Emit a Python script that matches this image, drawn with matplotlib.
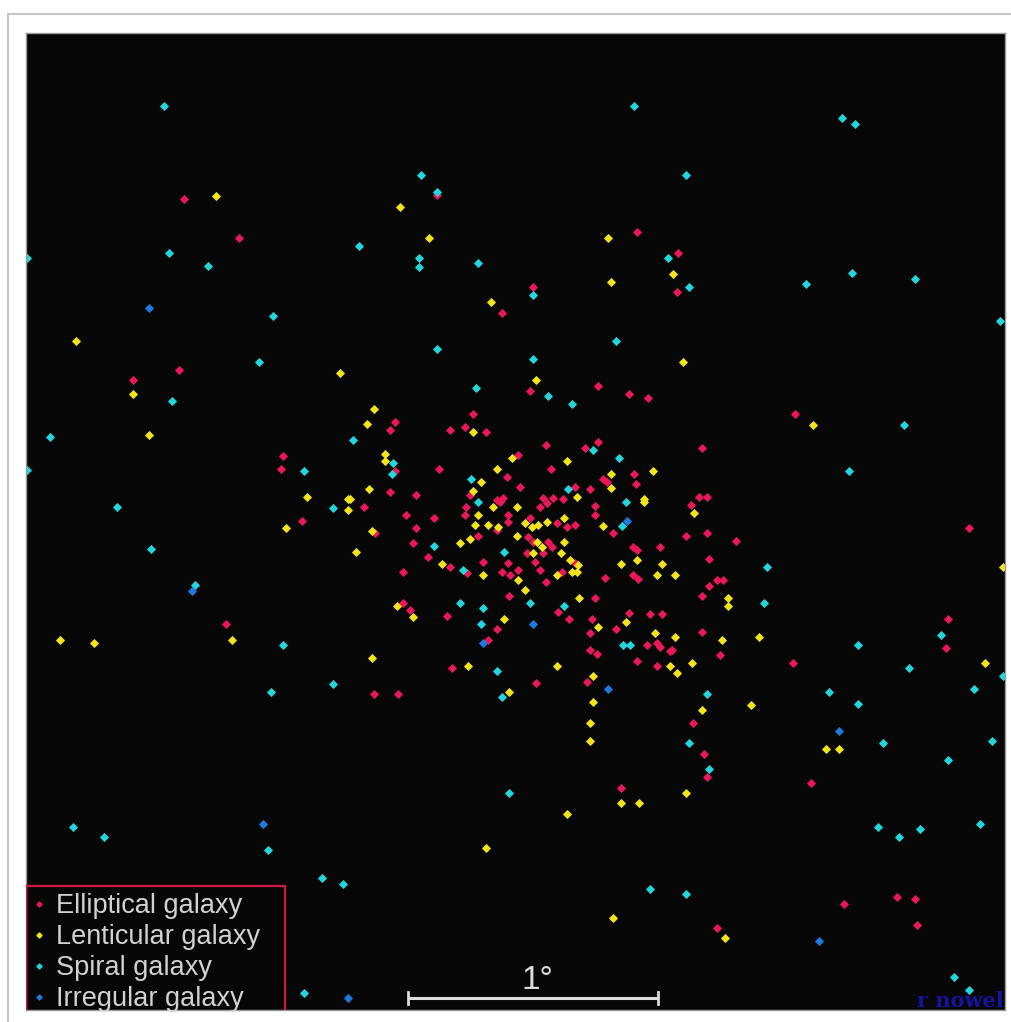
import matplotlib.pyplot as plt
from matplotlib.patches import Rectangle

# positions on the map (map units, 251 units = 1 degree), y grows downward
elliptical = [(184,199),(239,238),(437,195),(637,232),(678,253),(533,287),(502,313),(677,292),
    (179,370),(133,380),(283,456),(281,469),(302,521),(226,624),
    (598,386),(629,394),(648,398),(530,391),
    (473,414),(395,422),(390,430),(450,430),(465,427),(486,432),
    (546,445),(585,448),(598,442),(395,471),(518,455),(439,469),(551,469),
    (507,477),(634,474),(603,479),(607,482),(636,484),(390,492),(520,487),(470,495),(575,487),(590,489),(416,495),
    (503,498),(497,500),(543,498),(553,498),(563,499),(364,507),(466,507),(595,506),
    (406,515),(434,518),(465,515),(500,502),(508,515),(508,522),(497,530),(530,518),(557,523),(567,527),(575,525),
    (540,507),(547,503),(595,515),(613,533),(375,533),(416,528),(413,543),(478,536),(528,537),(533,542),(548,542),
    (552,547),(527,553),(543,553),(428,557),(450,567),(483,562),(575,563),(535,562),(508,563),(467,573),(502,572),
    (510,575),(518,570),(540,570),(562,572),(403,572),(546,582),(605,578),(633,547),(637,550),(660,547),(633,575),
    (638,579),(509,596),(595,598),(403,603),(410,610),(558,612),(447,616),(497,629),(569,619),(592,619),(629,613),
    (650,614),(662,614),(590,633),(616,629),(488,640),(647,645),(657,643),(660,647),(670,651),(590,650),(597,654),
    (637,661),(657,666),(452,668),(536,683),(587,682),(374,694),(398,694),
    (691,505),(686,536),(707,533),(736,541),(709,559),(717,580),(723,580),(709,586),(702,596),(702,632),(672,650),
    (720,655),(793,663),(693,723),(704,754),(699,497),(707,497),(702,448),(795,414),
    (969,528),(948,619),(946,648),
    (707,777),(811,783),(621,788),(897,897),(915,899),(844,904),(917,925),(717,928)]

lenticular = [(216,196),(400,207),(429,238),(608,238),(611,282),(673,274),(491,302),(683,362),(76,341),(340,373),
    (133,394),(149,435),(307,497),(348,499),(286,528),(60,640),(94,643),(232,640),
    (536,380),(374,409),(367,424),(473,432),(385,454),(385,461),(512,458),(567,461),(653,471),(497,469),(481,482),
    (611,474),(611,488),(369,489),(473,491),(577,497),(644,499),(350,499),(493,507),(813,425),
    (348,510),(517,507),(478,515),(475,525),(488,525),(498,527),(525,523),(532,527),(538,525),(547,522),(564,518),
    (644,502),(603,526),(372,531),(460,543),(470,539),(517,536),(356,552),(537,542),(542,547),(564,542),(533,553),
    (561,553),(442,564),(570,560),(578,565),(483,575),(557,575),(572,572),(577,572),(518,580),(621,564),(637,560),
    (662,564),(657,575),(675,575),(525,590),(579,598),(397,606),(413,617),(504,619),(626,622),(598,627),(655,633),
    (675,637),(670,666),(677,673),(372,658),(557,666),(468,666),(593,676),(509,692),(593,702),(590,723),(590,741),
    (694,513),(728,598),(728,606),(722,640),(759,637),(692,663),(1003,567),(985,663),(702,710),(751,705),
    (826,749),(839,749),(686,793),(621,803),(639,803),(567,814),(486,848),(613,918),(725,938)]

spiral = [(164,106),(634,106),(842,118),(855,124),(686,175),(421,175),(437,192),(359,246),(419,258),(419,267),
    (478,263),(668,258),(169,253),(208,266),(27,258),(852,273),(689,287),(806,284),(915,279),(1000,321),
    (533,295),(616,341),(437,349),(533,359),(476,388),(548,396),(572,404),(273,316),(259,362),(172,401),(50,437),
    (304,471),(27,470),(117,507),(333,508),(904,425),(849,471),
    (353,440),(593,450),(393,463),(392,474),(619,458),(471,479),(568,489),(478,502),(626,502),(622,526),(434,546),
    (504,552),(463,570),(460,603),(483,608),(530,603),(564,606),(481,624),(623,645),(630,645),(497,671),(502,697),
    (151,549),(195,585),(283,645),(333,684),(271,692),
    (767,567),(764,603),(941,635),(858,645),(909,668),(1003,676),(829,692),(858,704),(974,689),(707,694),(689,743),
    (883,743),(992,741),(948,760),
    (73,827),(104,837),(268,850),(322,878),(343,884),(304,993),(509,793),(650,889),(709,769),(878,827),(899,837),
    (920,829),(980,824),(686,894),(954,977),(969,990)]

irregular = [(149,308),(192,591),(627,521),(533,624),(483,643),(608,689),(839,731),(263,824),(348,998),(819,941)]

types = ['Elliptical galaxy', 'Lenticular galaxy', 'Spiral galaxy', 'Irregular galaxy']
colors = ['#e8185a', '#f2e41a', '#22d6dc', '#1f7ae0']
groups = [elliptical, lenticular, spiral, irregular]

fig = plt.figure(figsize=(10.11, 10.22), dpi=100)
fig.patch.set_facecolor('white')
fig.patches.append(Rectangle((8/1011, -0.01), 1.0, (1022-14)/1022 + 0.01, transform=fig.transFigure,
                             fill=False, edgecolor='#c4c4c4', lw=1.5))

ax = fig.add_axes([26/1011, 12/1022, 979/1011, 977/1022])
ax.set_facecolor('#070707')
ax.set_xlim(26, 1005)
ax.set_ylim(1010, 33)
ax.set_xticks([])
ax.set_yticks([])
for s in ax.spines.values():
    s.set_color('#9a9a9a')
    s.set_linewidth(1)

for pts, c in zip(groups, colors):
    xs = [p[0] for p in pts]
    ys = [p[1] for p in pts]
    ax.plot(xs, ys, 'D', ms=3.9, color=c, mec=c, mew=0.6, ls='none')

# legend box
ax.add_patch(Rectangle((26, 886), 259, 130, fill=False, edgecolor='#d01848', lw=1.6, zorder=5))
for i, (lab, c) in enumerate(zip(types, colors)):
    yy = 906 + i * 31
    ax.plot([39], [yy - 2], 'D', ms=2.6, color=c, mec=c, zorder=6)
    ax.text(56, yy, lab, color='#d2d2d2', fontsize=19.5, family=['Liberation Sans Narrow', 'Liberation Sans', 'DejaVu Sans'],
            va='center', ha='left', zorder=6)

# scale bar: 1 degree
ax.plot([408, 658], [998, 998], color='#dcdcdc', lw=2.2, solid_capstyle='butt')
ax.plot([408, 408], [992, 1004], color='#dcdcdc', lw=2)
ax.plot([658, 658], [992, 1004], color='#dcdcdc', lw=2)
ax.text(537, 989, '1°', color='#dcdcdc', fontsize=24, family=['Liberation Sans Narrow', 'Liberation Sans', 'DejaVu Sans'],
        ha='center', va='baseline')

ax.text(1004, 1007, 'r nowel', color='#1414a0', fontsize=15, family='DejaVu Serif',
        fontweight='bold', ha='right', va='baseline')

fig.savefig('out.png', dpi=100)
